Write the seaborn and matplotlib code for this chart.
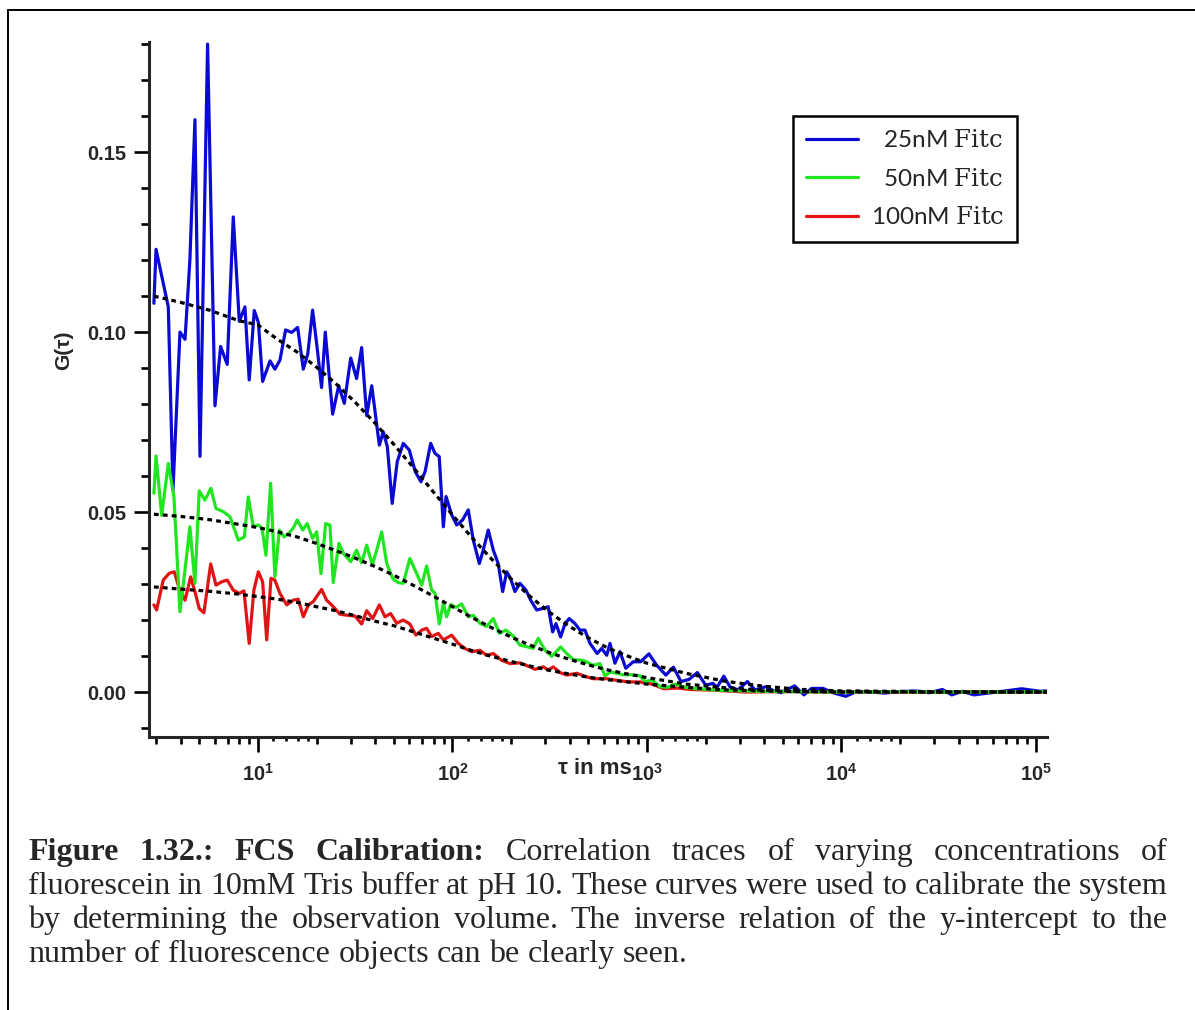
import numpy as np
import pandas as pd
import matplotlib
matplotlib.use("Agg")
import matplotlib.pyplot as plt
from matplotlib.lines import Line2D
from matplotlib.ticker import NullFormatter, NullLocator
import seaborn as sns

# -------------------------------------------------------------
# data: (log10 tau [ms], G(tau))
# -------------------------------------------------------------
trace_25 = [
    (0.465, 0.108), (0.476, 0.123), (0.505, 0.1156), (0.539, 0.107), (0.563, 0.056),
    (0.599, 0.100), (0.625, 0.098), (0.650, 0.120), (0.676, 0.159), (0.702, 0.0655),
    (0.741, 0.180), (0.779, 0.0795), (0.808, 0.096), (0.842, 0.091), (0.873, 0.132),
    (0.904, 0.103), (0.933, 0.107), (0.955, 0.0867), (0.981, 0.106), (1.002, 0.1027),
    (1.024, 0.0863), (1.062, 0.092), (1.087, 0.0897), (1.113, 0.0922), (1.142, 0.1006),
    (1.173, 0.0999), (1.204, 0.1013), (1.233, 0.0897), (1.256, 0.0939), (1.281, 0.1061),
    (1.305, 0.0953), (1.327, 0.0846), (1.346, 0.100), (1.384, 0.0772), (1.415, 0.0851),
    (1.444, 0.0802), (1.477, 0.0928), (1.507, 0.0871), (1.533, 0.0957), (1.559, 0.0768),
    (1.585, 0.0851), (1.624, 0.0686), (1.644, 0.0723), (1.665, 0.0682), (1.690, 0.0524),
    (1.716, 0.064), (1.747, 0.0691), (1.778, 0.0672), (1.809, 0.0612), (1.838, 0.0584),
    (1.859, 0.0612), (1.888, 0.0691), (1.910, 0.0663), (1.932, 0.0654), (1.953, 0.0459),
    (1.967, 0.0543), (1.996, 0.0492), (2.022, 0.0464), (2.052, 0.0478), (2.081, 0.0506),
    (2.107, 0.0422), (2.138, 0.0357), (2.158, 0.0394), (2.184, 0.045), (2.210, 0.0394),
    (2.235, 0.0357), (2.258, 0.0279), (2.279, 0.0334), (2.299, 0.0315), (2.321, 0.0279),
    (2.347, 0.0302), (2.378, 0.0283), (2.402, 0.0255), (2.433, 0.0228), (2.464, 0.0232),
    (2.492, 0.0237), (2.515, 0.0167), (2.532, 0.019), (2.556, 0.0153), (2.578, 0.0189),
    (2.600, 0.0204), (2.630, 0.019), (2.655, 0.0172), (2.681, 0.0172), (2.707, 0.0135),
    (2.744, 0.0107), (2.767, 0.0121), (2.793, 0.0102), (2.810, 0.0135), (2.835, 0.008),
    (2.861, 0.0112), (2.891, 0.0066), (2.929, 0.0084), (2.967, 0.0084), (3.010, 0.0106),
    (3.049, 0.0075), (3.097, 0.0047), (3.136, 0.0069), (3.175, 0.0029), (3.216, 0.0035),
    (3.259, 0.0054), (3.302, 0.0019), (3.339, 0.0024), (3.360, 0.0013), (3.395, 0.0044),
    (3.427, 0.0014), (3.467, 0.0006), (3.516, 0.0029), (3.555, 0.0006), (3.613, 0.0015),
    (3.652, 0.0003), (3.689, -0.0002), (3.759, 0.0017), (3.807, -0.0008), (3.846, 0.001),
    (3.905, 0.001), (3.962, -0.0003), (4.022, -0.0012), (4.080, 0.0002), (4.157, 0.0),
    (4.220, -0.0003), (4.301, 0.0001), (4.380, 0.0003), (4.450, -0.0002), (4.519, 0.0007),
    (4.567, -0.0008), (4.620, 0.0002), (4.681, -0.0008), (4.799, 0.0), (4.927, 0.0009),
    (5.020, 0.0002), (5.051, 0.0003),
]

trace_50 = [
    (0.465, 0.0552), (0.476, 0.0656), (0.505, 0.0491), (0.539, 0.0635), (0.568, 0.0542),
    (0.599, 0.0223), (0.625, 0.034), (0.650, 0.0459), (0.676, 0.0302), (0.698, 0.0559),
    (0.727, 0.0533), (0.758, 0.0566), (0.784, 0.051), (0.822, 0.0501), (0.856, 0.0487),
    (0.899, 0.0422), (0.930, 0.0431), (0.950, 0.0542), (0.976, 0.0459), (1.002, 0.0464),
    (1.021, 0.0455), (1.041, 0.038), (1.065, 0.058), (1.087, 0.032), (1.110, 0.045),
    (1.134, 0.0431), (1.157, 0.044), (1.181, 0.0455), (1.202, 0.0478), (1.230, 0.045),
    (1.253, 0.0468), (1.281, 0.0427), (1.302, 0.0445), (1.324, 0.0329), (1.348, 0.0468),
    (1.370, 0.0464), (1.387, 0.0304), (1.416, 0.0413), (1.442, 0.0383), (1.477, 0.0362),
    (1.507, 0.0394), (1.533, 0.0359), (1.559, 0.0408), (1.588, 0.0353), (1.613, 0.0399),
    (1.636, 0.0445), (1.662, 0.0357), (1.693, 0.0315), (1.721, 0.0304), (1.747, 0.0302),
    (1.781, 0.0371), (1.816, 0.0329), (1.842, 0.0297), (1.867, 0.035), (1.893, 0.0283),
    (1.910, 0.0275), (1.932, 0.0189), (1.953, 0.0246), (1.970, 0.0209), (1.991, 0.0243),
    (2.018, 0.0235), (2.047, 0.0245), (2.081, 0.0209), (2.107, 0.0213), (2.141, 0.0191),
    (2.176, 0.0182), (2.210, 0.0204), (2.241, 0.0163), (2.275, 0.0172), (2.313, 0.0155),
    (2.347, 0.013), (2.381, 0.0126), (2.414, 0.0121), (2.441, 0.0149), (2.475, 0.0117),
    (2.510, 0.0099), (2.556, 0.0125), (2.587, 0.0107), (2.621, 0.009), (2.672, 0.0088),
    (2.724, 0.0074), (2.758, 0.0079), (2.784, 0.0045), (2.813, 0.0056), (2.844, 0.0052),
    (2.878, 0.0048), (2.921, 0.0048), (2.964, 0.0045), (2.990, 0.0029), (3.026, 0.0033),
    (3.067, 0.0015), (3.106, 0.0013), (3.146, 0.0022), (3.195, 0.0013), (3.265, 0.0009),
    (3.339, 0.0006), (3.437, 0.0004), (3.581, 0.0002), (3.787, 0.0001), (4.044, 0.0),
    (4.301, 0.0001), (4.558, 0.0), (4.815, 0.0), (5.051, 0.0001),
]

trace_100 = [
    (0.465, 0.0242), (0.479, 0.0228), (0.513, 0.0311), (0.544, 0.033), (0.570, 0.0334),
    (0.595, 0.0288), (0.625, 0.0255), (0.654, 0.032), (0.676, 0.0279), (0.698, 0.0232),
    (0.722, 0.022), (0.757, 0.0356), (0.784, 0.0297), (0.813, 0.0306), (0.842, 0.0311),
    (0.873, 0.0283), (0.904, 0.0274), (0.928, 0.0281), (0.955, 0.0135), (0.979, 0.0283),
    (1.002, 0.0334), (1.024, 0.0306), (1.045, 0.0145), (1.067, 0.0316), (1.087, 0.0311),
    (1.113, 0.0274), (1.148, 0.0242), (1.181, 0.0255), (1.207, 0.0258), (1.233, 0.0209),
    (1.259, 0.0242), (1.284, 0.0251), (1.327, 0.0285), (1.353, 0.0255), (1.379, 0.0242),
    (1.422, 0.0216), (1.464, 0.0213), (1.499, 0.0211), (1.533, 0.0189), (1.559, 0.0226),
    (1.590, 0.0204), (1.624, 0.0242), (1.653, 0.0209), (1.682, 0.0218), (1.713, 0.0191),
    (1.747, 0.020), (1.781, 0.0189), (1.812, 0.0158), (1.842, 0.0172), (1.867, 0.0177),
    (1.893, 0.0154), (1.927, 0.0163), (1.953, 0.0145), (1.996, 0.0158), (2.030, 0.0135),
    (2.064, 0.0121), (2.099, 0.0112), (2.141, 0.0116), (2.176, 0.0102), (2.210, 0.0107),
    (2.253, 0.0088), (2.296, 0.0079), (2.347, 0.0081), (2.398, 0.007), (2.424, 0.0063),
    (2.467, 0.007), (2.492, 0.0061), (2.518, 0.007), (2.553, 0.0054), (2.587, 0.0047),
    (2.639, 0.0052), (2.690, 0.0042), (2.724, 0.0037), (2.793, 0.0037), (2.861, 0.0031),
    (2.913, 0.0028), (2.964, 0.0028), (3.026, 0.0022), (3.087, 0.0009), (3.159, 0.0011),
    (3.221, 0.0007), (3.339, 0.0005), (3.504, 0.0), (3.684, 0.0001), (3.941, 0.0),
    (4.301, 0.0), (4.815, 0.0), (5.051, 0.0),
]

# dotted fit curves, read at fixed log10 tau positions
fit_log_tau = [0.465, 0.6, 0.75, 0.9, 1.0, 1.1, 1.2, 1.3, 1.4, 1.5, 1.6, 1.7, 1.8, 1.9,
               2.0, 2.1, 2.2, 2.3, 2.4, 2.5, 2.6, 2.7, 2.8, 2.9, 3.0, 3.2, 3.4, 3.6, 3.8,
               4.0, 4.5, 5.06]
fit_25 = [0.110, 0.1083, 0.1061, 0.1032, 0.102, 0.098, 0.0945, 0.0903, 0.0857, 0.0805,
          0.0748, 0.0687, 0.0623, 0.0557, 0.0492, 0.0429, 0.0370, 0.0315, 0.0265, 0.0221,
          0.0183, 0.0150, 0.0122, 0.0100, 0.0080, 0.0052, 0.0030, 0.0016, 0.0007, 0.0003,
          0.0001, 0.0]
fit_50 = [0.0494, 0.0488, 0.0479, 0.0466, 0.0457, 0.0445, 0.0431, 0.0413, 0.0393, 0.0372,
          0.0349, 0.0324, 0.0296, 0.0267, 0.0237, 0.0207, 0.0179, 0.0153, 0.0130, 0.0109,
          0.0091, 0.0075, 0.0061, 0.0050, 0.0040, 0.0022, 0.0012, 0.0005, 0.0002, 0.0001,
          0.0, 0.0]
fit_100 = [0.0292, 0.0286, 0.0280, 0.0272, 0.0265, 0.0258, 0.0249, 0.0237, 0.0226, 0.0212,
           0.0197, 0.0184, 0.0167, 0.0150, 0.0133, 0.0115, 0.0099, 0.0085, 0.0072, 0.0060,
           0.0050, 0.0041, 0.0034, 0.0028, 0.0022, 0.0013, 0.0006, 0.0003, 0.0001, 0.0,
           0.0, 0.0]

samples = ["25nM", "50nM", "100nM"]
legend_labels = ["  25nM $\\mathrm{Fitc}$", "  50nM $\\mathrm{Fitc}$", "100nM $\\mathrm{Fitc}$"]
colors = {"25nM": "#0a0ad2", "50nM": "#20e620", "100nM": "#e01414"}

y_major = [0.0, 0.05, 0.10, 0.15]
y_major_labels = ["0.00", "0.05", "0.10", "0.15"]
x_major = [1e1, 1e2, 1e3, 1e4, 1e5]
x_major_labels = ["$\\mathregular{10^{%d}}$" % n for n in range(1, 6)]

caption = [
    ("Figure 1.32.: FCS Calibration:", "Correlation traces of varying concentrations of"),
    ("", "fluorescein in 10mM Tris buffer at pH 10. These curves were used to calibrate the system"),
    ("", "by determining the observation volume. The inverse relation of the y-intercept to the"),
    ("", "number of fluorescence objects can be clearly seen."),
]

# -------------------------------------------------------------
# style
# -------------------------------------------------------------
sns.set_style("ticks")
plt.rcParams["font.family"] = ["Liberation Sans", "DejaVu Sans"]
plt.rcParams["mathtext.fontset"] = "custom"
plt.rcParams["mathtext.rm"] = "DejaVu Serif"

W, H = 1195, 1010
fig = plt.figure(figsize=(W / 100, H / 100), dpi=100)
ax = fig.add_axes([149 / W, 1 - 737 / H, 898 / W, 695 / H])
ax.set_xscale("log")

df = pd.concat(
    [pd.DataFrame(t, columns=["log_tau", "G"]).assign(sample=s)
     for s, t in zip(samples, [trace_25, trace_50, trace_100])],
    ignore_index=True,
)
df["tau"] = 10 ** df["log_tau"]

sns.lineplot(data=df, x="tau", y="G", hue="sample", hue_order=["25nM", "100nM", "50nM"],
             palette=colors, estimator=None, sort=False, lw=2.3, legend=False, ax=ax)

fit_df = pd.DataFrame({"tau": 10 ** np.array(fit_log_tau),
                       "25nM": fit_25, "50nM": fit_50, "100nM": fit_100})
for s in samples:
    sns.lineplot(x=fit_df["tau"], y=fit_df[s], color="black", lw=2.3,
                 linestyle=(0, (1.5, 1.3)), estimator=None, ax=ax)

ax.set_xlim(2.753, 1.139e5)
ax.set_ylim(-0.0125, 0.1806)

# axes cosmetics
for side in ["top", "right"]:
    ax.spines[side].set_visible(False)
for side in ["left", "bottom"]:
    ax.spines[side].set_linewidth(2.2)

ax.set_yticks(y_major, labels=y_major_labels, fontsize=14.5, fontweight="bold")
ax.set_yticks([v / 100 for v in range(-1, 19) if v % 5 != 0], minor=True)
ax.set_xticks(x_major, labels=x_major_labels, fontsize=14.5, fontweight="bold")
x_minor = [m * 10 ** n for n in range(0, 5) for m in range(2, 10) if m * 10 ** n > 2.8]
ax.set_xticks(x_minor, minor=True)
ax.xaxis.set_minor_formatter(NullFormatter())
ax.tick_params(axis="both", which="major", direction="out", length=10.5, width=1.9, color="black")
ax.tick_params(axis="y", which="major", pad=6)
ax.tick_params(axis="x", which="major", pad=8)
ax.tick_params(axis="y", which="minor", direction="out", length=5.8, width=1.9, color="black")
ax.tick_params(axis="x", which="minor", direction="out", length=5.0, width=1.9, color="black")

# tiny ticks between 1 and 2 of each decade
sec = ax.secondary_xaxis("bottom")
tiny = [m * 10 ** n for n in range(1, 5) for m in (1.2, 1.4, 1.6, 1.8)]
sec.set_xticks(tiny)
sec.xaxis.set_major_formatter(NullFormatter())
sec.xaxis.set_minor_locator(NullLocator())
sec.tick_params(axis="x", which="major", direction="out", length=2.8, width=1.9, color="black")
sec.spines["bottom"].set_visible(False)

ax.set_ylabel("G(τ)", fontsize=15, fontweight="bold")
ax.yaxis.set_label_coords(-0.084, 0.557)
ax.set_xlabel("τ in ms", fontsize=16, fontweight="bold")
ax.xaxis.set_label_coords(0.497, -0.030)

handles = [Line2D([], [], color=colors[s], lw=2.3) for s in samples]
leg = ax.legend(handles, legend_labels, loc="upper left", bbox_to_anchor=(0.717, 0.8935),
                borderaxespad=0, prop={"family": "Lato", "size": 17.5},
                handlelength=2.15, handletextpad=0.5, labelspacing=0.68, borderpad=0.55,
                fancybox=False, framealpha=1, edgecolor="black")
leg.get_frame().set_linewidth(1.8)

# -------------------------------------------------------------
# caption (justified like the source document)
# -------------------------------------------------------------
cap_font = dict(family="Liberation Serif", size=23)
cap_left, cap_right = 28, 1168
baselines = [860, 894, 928, 962]
renderer = fig.canvas.get_renderer()

for i, ((bold, regular), y_px) in enumerate(zip(caption, baselines)):
    words = [(w, "bold") for w in bold.split()] + [(w, "normal") for w in regular.split()]
    arts = [fig.text(0, 1 - y_px / H, w, fontweight=wt, va="baseline", ha="left", **cap_font)
            for w, wt in words]
    widths = [a.get_window_extent(renderer).width for a in arts]
    if i < len(caption) - 1:
        gap = (cap_right - cap_left - sum(widths)) / (len(arts) - 1)
    else:
        gap = 0.25 * cap_font["size"] * 100 / 72
    x = cap_left
    for a, w in zip(arts, widths):
        a.set_x(x / W)
        x += w + gap

# page border (left and top edges)
fig.add_artist(Line2D([8 / W, 8 / W], [0, 1 - 10 / H], transform=fig.transFigure,
                      color="black", lw=1.4))
fig.add_artist(Line2D([8 / W, 1], [1 - 10 / H, 1 - 10 / H], transform=fig.transFigure,
                      color="black", lw=1.4))

fig.savefig("out.png", dpi=100, facecolor="white")
